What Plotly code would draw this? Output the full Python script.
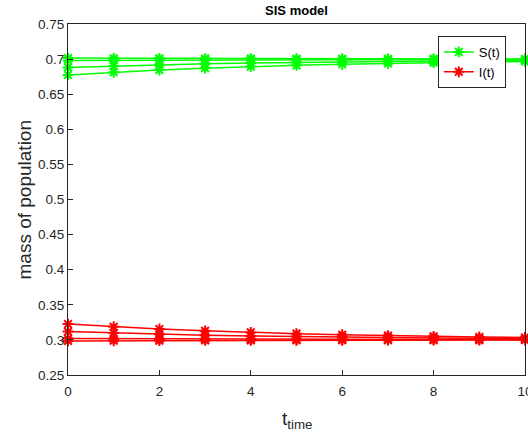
import plotly.graph_objects as go

t = [0, 1, 2, 3, 4, 5, 6, 7, 8, 9, 10]

S_runs = [
    [0.6775, 0.6813, 0.6845, 0.6871, 0.6893, 0.6911, 0.6926, 0.6939, 0.6949, 0.6958, 0.6965],
    [0.6882, 0.6902, 0.6919, 0.6932, 0.6944, 0.6953, 0.6961, 0.6968, 0.6973, 0.6978, 0.6982],
    [0.6981, 0.6984, 0.6987, 0.6989, 0.6991, 0.6993, 0.6994, 0.6995, 0.6996, 0.6996, 0.6997],
    [0.7014, 0.7012, 0.7010, 0.7008, 0.7007, 0.7006, 0.7005, 0.7004, 0.7003, 0.7003, 0.7002],
]
I_runs = [
    [0.3225, 0.3187, 0.3155, 0.3129, 0.3107, 0.3089, 0.3074, 0.3061, 0.3051, 0.3042, 0.3035],
    [0.3118, 0.3098, 0.3081, 0.3068, 0.3056, 0.3047, 0.3039, 0.3032, 0.3027, 0.3022, 0.3018],
    [0.3019, 0.3016, 0.3013, 0.3011, 0.3009, 0.3007, 0.3006, 0.3005, 0.3004, 0.3004, 0.3003],
    [0.2986, 0.2988, 0.2990, 0.2992, 0.2993, 0.2994, 0.2995, 0.2996, 0.2997, 0.2997, 0.2998],
]

green = "#00FF00"
red = "#FF0000"
axis_col = "#262626"
font_family = "Liberation Sans, Arial, sans-serif"

fig = go.Figure()

def add_run(y, color, name, show):
    fig.add_trace(go.Scatter(
        x=t, y=y, mode="lines+markers", name=name, showlegend=show,
        line=dict(color=color, width=1.5),
        marker=dict(symbol="asterisk-open", size=9, color=color,
                    line=dict(color=color, width=2)),
        cliponaxis=False,
    ))

for i, s in enumerate(S_runs):
    add_run(s, green, "S(t)", i == 0)
for i, v in enumerate(I_runs):
    add_run(v, red, "I(t)", i == 0)

axis_common = dict(
    showline=True, mirror=True, linecolor=axis_col, linewidth=1,
    ticks="inside", ticklen=5, tickcolor=axis_col,
    showgrid=False, zeroline=False, ticklabeloverflow="allow",
    automargin=False,
    tickfont=dict(family=font_family, size=13.5, color=axis_col),
)

fig.update_layout(
    width=528, height=435,
    margin=dict(l=68, r=3, t=24, b=60),
    paper_bgcolor="white", plot_bgcolor="white",
    font=dict(family=font_family, color=axis_col),
    title=dict(text="<b>SIS model</b>", x=0.5, xref="paper",
               y=1 - 10 / 435, yref="container", yanchor="middle",
               font=dict(size=13, color="black")),
    xaxis=dict(range=[0, 10], dtick=2, tick0=0, ticklabelstandoff=4,
               **axis_common),
    yaxis=dict(range=[0.25, 0.75], dtick=0.05, tick0=0.25, **axis_common),
    legend=dict(x=0.958, y=0.966, xanchor="right", yanchor="top",
                bgcolor="white", bordercolor=axis_col, borderwidth=1,
                font=dict(size=13, color="black"),
                tracegroupgap=0, itemwidth=30),
    annotations=[
        dict(text="t<sub>time</sub>", xref="paper", yref="paper",
             x=0.5, y=-45 / 351, xanchor="center", yanchor="middle",
             showarrow=False, font=dict(size=19, color=axis_col)),
        dict(text="mass of population", xref="paper", yref="paper",
             x=-44 / 457, y=0.5, xanchor="center", yanchor="middle",
             textangle=-90, showarrow=False,
             font=dict(size=19, color=axis_col)),
    ],
)

fig.write_html("out.html")
